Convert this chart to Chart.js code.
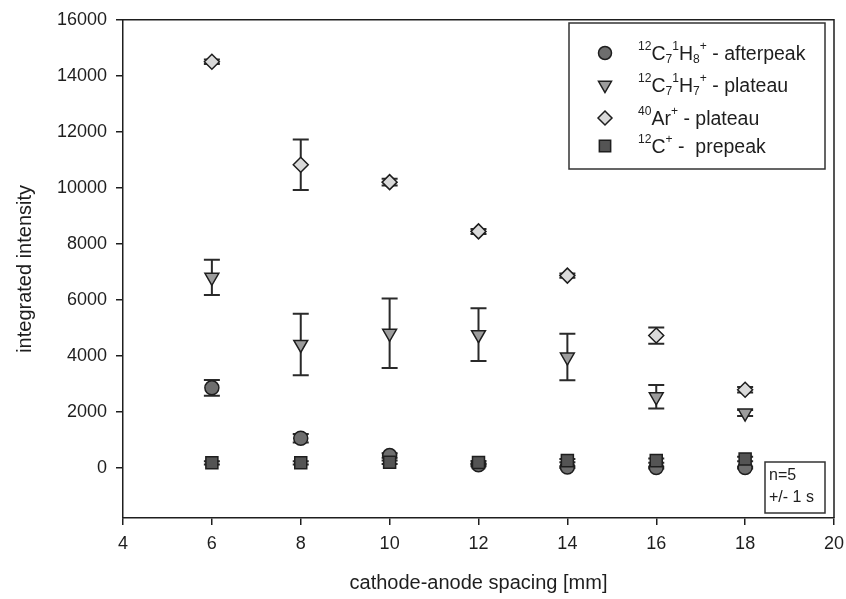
<!DOCTYPE html>
<html>
<head>
<meta charset="utf-8">
<script src="https://cdn.jsdelivr.net/npm/chart.js@4.4.0/dist/chart.umd.min.js"></script>
<style>
  html, body { margin: 0; padding: 0; background: #fff; }
</style>
</head>
<body>
<canvas id="myChart" width="846" height="599"></canvas>
<script>
// x values: cathode-anode spacing in mm
const spacing = [6, 8, 10, 12, 14, 16, 18];

// 12C7 1H8+ afterpeak (circles)
const afterpeak = [2850, 1050, 430, 100, 20, 0, 0];
const afterpeakErr = [280, 150, 80, 50, 30, 30, 30];

// 12C7 1H7+ plateau (triangles)
const plateauCH = [6800, 4400, 4800, 4750, 3950, 2530, 1950];
const plateauCHErr = [630, 1100, 1240, 940, 830, 420, 110];

// 40Ar+ plateau (diamonds)
const plateauAr = [14500, 10820, 10200, 8440, 6860, 4720, 2780];
const plateauArErr = [80, 900, 120, 90, 80, 290, 100];

// 12C+ prepeak (squares)
const prepeak = [170, 170, 190, 180, 250, 250, 310];
const prepeakErr = [60, 60, 60, 60, 60, 80, 80];

const xTicks = [4, 6, 8, 10, 12, 14, 16, 18, 20];
const yTicks = [0, 2000, 4000, 6000, 8000, 10000, 12000, 14000, 16000];

const FONT = '"Liberation Sans", Arial, sans-serif';
const INK = '#1e1e1e';

function pts(ys) {
  return spacing.map((x, i) => ({ x: x, y: ys[i] }));
}

// series info, used by the datasets, the error bars and the legend
const series = [
  { key: 'after', data: afterpeak, err: afterpeakErr, style: 'circle', radius: 7, rot: 0, fill: '#6e6e6e', order: 4,
    label: [['12', 1], ['C', 0], ['7', -1], ['1', 1], ['H', 0], ['8', -1], ['+', 1], [' - afterpeak', 0]] },
  { key: 'plat', data: plateauCH, err: plateauCHErr, style: 'triangle', radius: 8, rot: 180, fill: '#9c9c9c', order: 3,
    label: [['12', 1], ['C', 0], ['7', -1], ['1', 1], ['H', 0], ['7', -1], ['+', 1], [' - plateau', 0]] },
  { key: 'ar', data: plateauAr, err: plateauArErr, style: 'rectRot', radius: 7.5, rot: 0, fill: '#dadada', order: 2,
    label: [['40', 1], ['Ar', 0], ['+', 1], [' - plateau', 0]] },
  { key: 'pre', data: prepeak, err: prepeakErr, style: 'rect', radius: 8.5, rot: 0, fill: '#545454', order: 1,
    label: [['12', 1], ['C', 0], ['+', 1], [' -  prepeak', 0]] }
];

// draw error bars under the markers
const errorBars = {
  id: 'errorBars',
  beforeDatasetsDraw(chart) {
    const ctx = chart.ctx;
    const xs = chart.scales.x, ys = chart.scales.y;
    ctx.save();
    ctx.strokeStyle = '#2a2a2a';
    ctx.lineWidth = 2;
    series.forEach(s => {
      s.data.forEach((v, i) => {
        const px = xs.getPixelForValue(spacing[i]);
        const top = ys.getPixelForValue(v + s.err[i]);
        const bot = ys.getPixelForValue(v - s.err[i]);
        ctx.beginPath();
        ctx.moveTo(px, top); ctx.lineTo(px, bot);
        ctx.moveTo(px - 8, top); ctx.lineTo(px + 8, top);
        ctx.moveTo(px - 8, bot); ctx.lineTo(px + 8, bot);
        ctx.stroke();
      });
    });
    ctx.restore();
  }
};

function drawRich(ctx, x, y, parts, size) {
  let cx = x;
  parts.forEach(p => {
    const t = p[0], k = p[1];
    const fs = k === 0 ? size : size * 0.62;
    const dy = k === 1 ? -size * 0.42 : (k === -1 ? size * 0.22 : 0);
    ctx.font = fs + 'px ' + FONT;
    ctx.fillText(t, cx, y + dy);
    cx += ctx.measureText(t).width;
  });
}

// frame on top/right, legend box and the n=5 note
const extras = {
  id: 'extras',
  afterDraw(chart) {
    const ctx = chart.ctx;
    const a = chart.chartArea;
    ctx.save();
    ctx.strokeStyle = INK;
    ctx.lineWidth = 1.5;
    ctx.beginPath();
    ctx.moveTo(a.left, a.top); ctx.lineTo(a.right, a.top); ctx.lineTo(a.right, a.bottom);
    ctx.stroke();

    // legend
    ctx.fillStyle = '#fff';
    ctx.fillRect(569, 23, 256, 146);
    ctx.strokeStyle = '#333';
    ctx.lineWidth = 1.5;
    ctx.strokeRect(569, 23, 256, 146);
    const rows = [53, 85, 118, 146];
    series.forEach((s, i) => {
      ctx.fillStyle = s.fill;
      ctx.strokeStyle = INK;
      ctx.lineWidth = 1.5;
      Chart.helpers.drawPoint(ctx, { pointStyle: s.style, radius: s.radius - 0.5, rotation: s.rot, borderWidth: 1.5 }, 605, rows[i]);
      ctx.fillStyle = INK;
      ctx.textBaseline = 'middle';
      drawRich(ctx, 638, rows[i] + 2, s.label, 19.5);
    });

    // n=5 note
    ctx.fillStyle = '#fff';
    ctx.fillRect(765, 462, 60, 51);
    ctx.strokeStyle = '#333';
    ctx.strokeRect(765, 462, 60, 51);
    ctx.fillStyle = INK;
    ctx.font = '16px ' + FONT;
    ctx.textBaseline = 'middle';
    ctx.fillText('n=5', 769, 476);
    ctx.fillText('+/- 1 s', 769, 498);
    ctx.restore();
  }
};

const datasets = series.map(s => ({
  label: s.key,
  data: pts(s.data),
  pointStyle: s.style,
  pointRadius: s.radius,
  pointRotation: s.rot,
  pointBackgroundColor: s.fill,
  pointBorderColor: INK,
  pointBorderWidth: 1.5,
  showLine: false,
  order: s.order
}));

const config = {
  type: 'scatter',
  data: { datasets: datasets },
  options: {
    responsive: false,
    animation: false,
    layout: { padding: { top: 19, right: 0, left: 0, bottom: 0 } },
    plugins: { legend: { display: false }, tooltip: { enabled: false } },
    scales: {
      x: {
        type: 'linear', min: 4, max: 20,
        afterBuildTicks: sc => { sc.ticks = xTicks.map(v => ({ value: v })); },
        afterFit: sc => { sc.height = 81; sc.paddingRight = 12; },
        grid: { drawOnChartArea: false, drawTicks: true, tickLength: 7, color: INK, lineWidth: 1.5 },
        border: { display: true, color: INK, width: 1.5 },
        ticks: { color: INK, font: { family: FONT, size: 18 }, padding: 8, maxRotation: 0,
                 callback: v => String(v) },
        title: { display: true, text: 'cathode-anode spacing [mm]', color: INK,
                 font: { family: FONT, size: 20 }, padding: { top: 0, bottom: 4 } }
      },
      y: {
        type: 'linear', min: -1800, max: 16000,
        afterBuildTicks: sc => { sc.ticks = yTicks.map(v => ({ value: v })); },
        afterFit: sc => { sc.width = 123; },
        grid: { drawOnChartArea: false, drawTicks: true, tickLength: 7, color: INK, lineWidth: 1.5 },
        border: { display: true, color: INK, width: 1.5 },
        ticks: { color: INK, font: { family: FONT, size: 18 }, padding: 9,
                 callback: v => String(v) },
        title: { display: true, text: 'integrated intensity', color: INK,
                 font: { family: FONT, size: 20 }, padding: { top: 13, bottom: 0 } }
      }
    }
  },
  plugins: [errorBars, extras]
};

const myChart = new Chart(document.getElementById('myChart'), config);
</script>
</body>
</html>
